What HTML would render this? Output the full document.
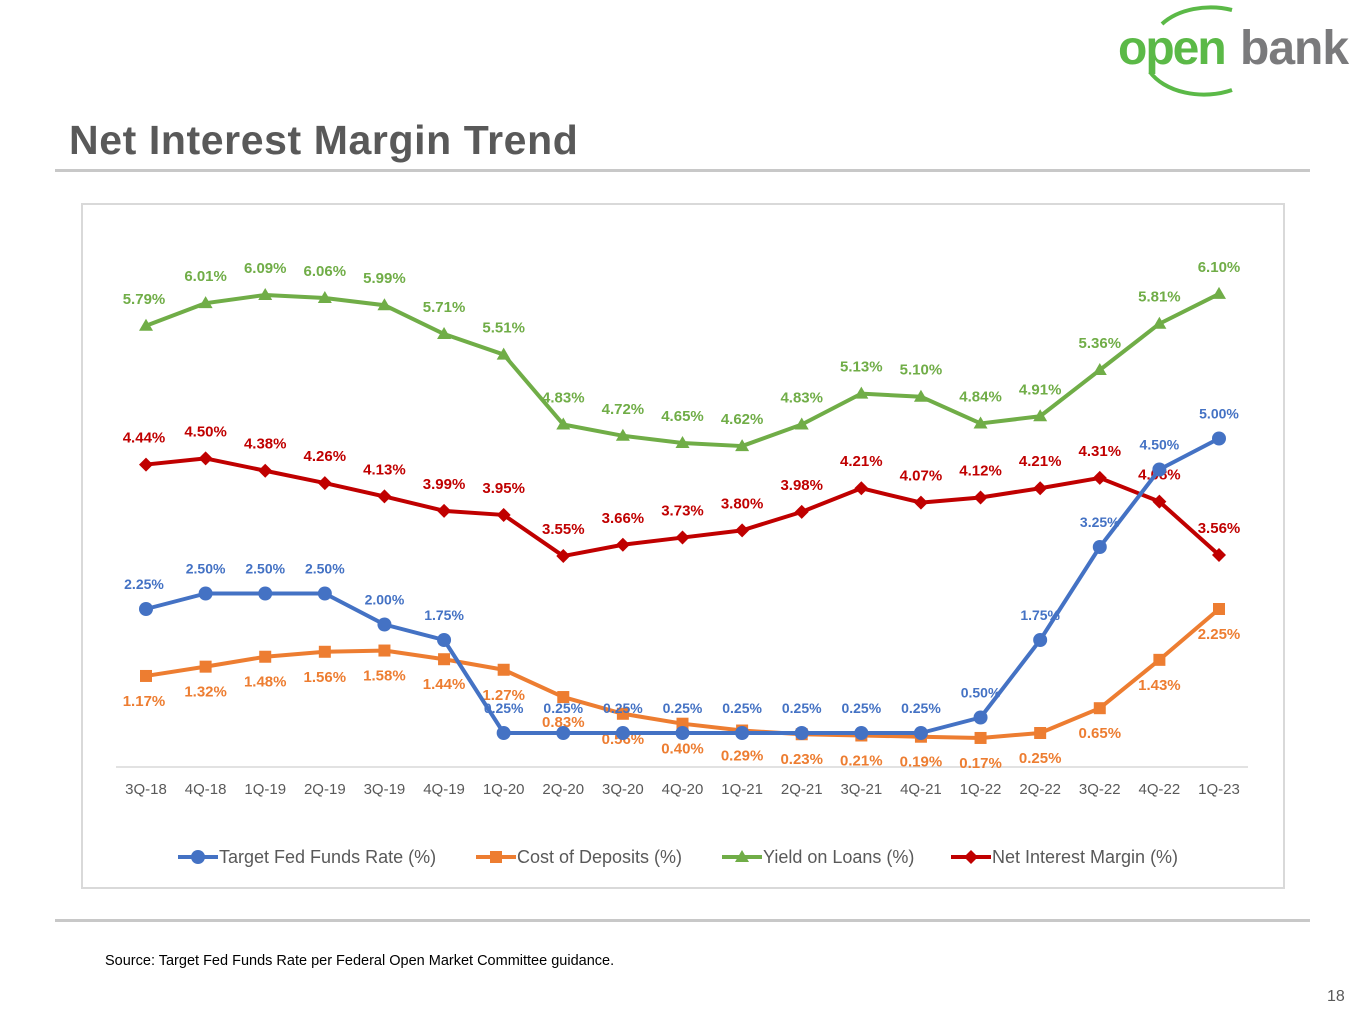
<!DOCTYPE html>
<html><head><meta charset="utf-8"><style>
body{margin:0;width:1365px;height:1024px;background:#fff;position:relative;overflow:hidden;font-family:"Liberation Sans",sans-serif}
.abs{position:absolute}
</style></head><body>
<div class="abs" style="left:1110px;top:0;width:255px;height:100px">
<svg width="255" height="100"><path d="M52 24 A60 40 0 0 1 122 10" fill="none" stroke="#5bb947" stroke-width="4"/><path d="M40 72 A60 40 0 0 0 122 90" fill="none" stroke="#5bb947" stroke-width="4"/>
<text x="8" y="64" font-family="Liberation Sans" font-weight="bold" font-size="48" fill="#5bb947" letter-spacing="-2">open</text>
<text x="130" y="64" font-family="Liberation Sans" font-weight="bold" font-size="48" fill="#7a7a7c" letter-spacing="-1">bank</text></svg></div>
<div class="abs" style="left:69px;top:117px;font-size:41px;font-weight:bold;color:#595959;letter-spacing:0.6px">Net Interest Margin Trend</div>
<div class="abs" style="left:55px;top:169px;width:1255px;height:3px;background:#c8c8c8"></div>
<div class="abs" style="left:81px;top:203px;width:1200px;height:682px;border:2px solid #d9d9d9"></div>
<svg class="abs" id="chart" style="left:0;top:0" width="1365" height="1024"></svg>
<div class="abs" style="left:55px;top:919px;width:1255px;height:3px;background:#c8c8c8"></div>
<div class="abs" style="left:105px;top:953px;font-size:14.5px;color:#000">Source: Target Fed Funds Rate per Federal Open Market Committee guidance.</div>
<div class="abs" style="left:1327px;top:988px;font-size:16px;color:#595959">18</div>
<script>
const categories=["3Q-18","4Q-18","1Q-19","2Q-19","3Q-19","4Q-19","1Q-20","2Q-20","3Q-20","4Q-20","1Q-21","2Q-21","3Q-21","4Q-21","1Q-22","2Q-22","3Q-22","4Q-22","1Q-23"];
const fedRate=[2.25,2.5,2.5,2.5,2.0,1.75,0.25,0.25,0.25,0.25,0.25,0.25,0.25,0.25,0.5,1.75,3.25,4.5,5.0];
const depositCost=[1.17,1.32,1.48,1.56,1.58,1.44,1.27,0.83,0.56,0.40,0.29,0.23,0.21,0.19,0.17,0.25,0.65,1.43,2.25];
const loanYield=[5.79,6.01,6.09,6.06,5.99,5.71,5.51,4.83,4.72,4.65,4.62,4.83,5.13,5.10,4.84,4.91,5.36,5.81,6.10];
const nim=[4.44,4.50,4.38,4.26,4.13,3.99,3.95,3.55,3.66,3.73,3.80,3.98,4.21,4.07,4.12,4.21,4.31,4.08,3.56];
const seriesNames=["Target Fed Funds Rate (%)","Cost of Deposits (%)","Yield on Loans (%)","Net Interest Margin (%)"];
const NS="http://www.w3.org/2000/svg",svg=document.getElementById('chart');
const x=i=>146+i*(1219-146)/(categories.length-1);
const yP=v=>748.5-v*62;
const yS=v=>921-v*102.8;
function mk(t,a,p){const e=document.createElementNS(NS,t);for(const k in a)e.setAttribute(k,a[k]);(p||svg).appendChild(e);return e;}
const axis=mk('line',{x1:116,x2:1248,y1:767,y2:767,stroke:'#d9d9d9','stroke-width':1.5});


categories.forEach((c,i)=>{const t=mk('text',{x:x(i),y:794,'text-anchor':'middle','font-size':15,fill:'#595959','font-family':'Liberation Sans'});t.textContent=c;

});
function marker(type,cx,cy,col,g){
 if(type==='circle')return mk('circle',{cx:cx,cy:cy,r:7,fill:col},g);
 if(type==='square')return mk('rect',{x:cx-6,y:cy-6,width:12,height:12,fill:col},g);
 if(type==='tri')return mk('path',{d:`M${cx} ${cy-7}L${cx+7} ${cy+5}L${cx-7} ${cy+5}Z`,fill:col},g);
 return mk('path',{d:`M${cx} ${cy-7}L${cx+7} ${cy}L${cx} ${cy+7}L${cx-7} ${cy}Z`,fill:col},g);}
const defs=[
 {vals:loanYield,y:yS,col:'#70AD47',m:'tri',dy:-22,name:'yield-on-loans-series',fs:15},
 {vals:nim,y:yS,col:'#C00000',m:'dia',dy:-22,name:'net-interest-margin-series',fs:15},
 {vals:depositCost,y:yP,col:'#ED7D31',m:'square',dy:30,name:'cost-of-deposits-series',fs:15},
 {vals:fedRate,y:yP,col:'#4472C4',m:'circle',dy:-20,name:'fed-funds-rate-series',fs:14}];
defs.forEach(d=>{const g=mk('g',{});
 
 
 const pts=d.vals.map((v,i)=>x(i)+','+d.y(v)).join(' ');
 mk('polyline',{points:pts,fill:'none',stroke:d.col,'stroke-width':4,'stroke-linejoin':'round'},g);
 d.vals.forEach((v,i)=>{const m=marker(d.m,x(i),d.y(v),d.col,g);
  
  
  const t=mk('text',{x:x(i)-(i===0?2:0),y:d.y(v)+d.dy,'text-anchor':'middle','font-size':d.fs,'font-weight':'bold',fill:d.col,'font-family':'Liberation Sans'},g);
  t.textContent=v.toFixed(2)+'%';
  
  });});
const legCols=['#4472C4','#ED7D31','#70AD47','#C00000'],legM=['circle','square','tri','dia'],legX=[178,476,722,951];
seriesNames.forEach((n,i)=>{const g=mk('g',{});
 
 
 mk('line',{x1:legX[i],x2:legX[i]+40,y1:857,y2:857,stroke:legCols[i],'stroke-width':4},g);
 marker(legM[i],legX[i]+20,857,legCols[i],g);
 const t=mk('text',{x:legX[i]+41,y:863,'font-size':18,fill:'#595959','font-family':'Liberation Sans'},g);t.textContent=n;});
</script>
</body></html>
